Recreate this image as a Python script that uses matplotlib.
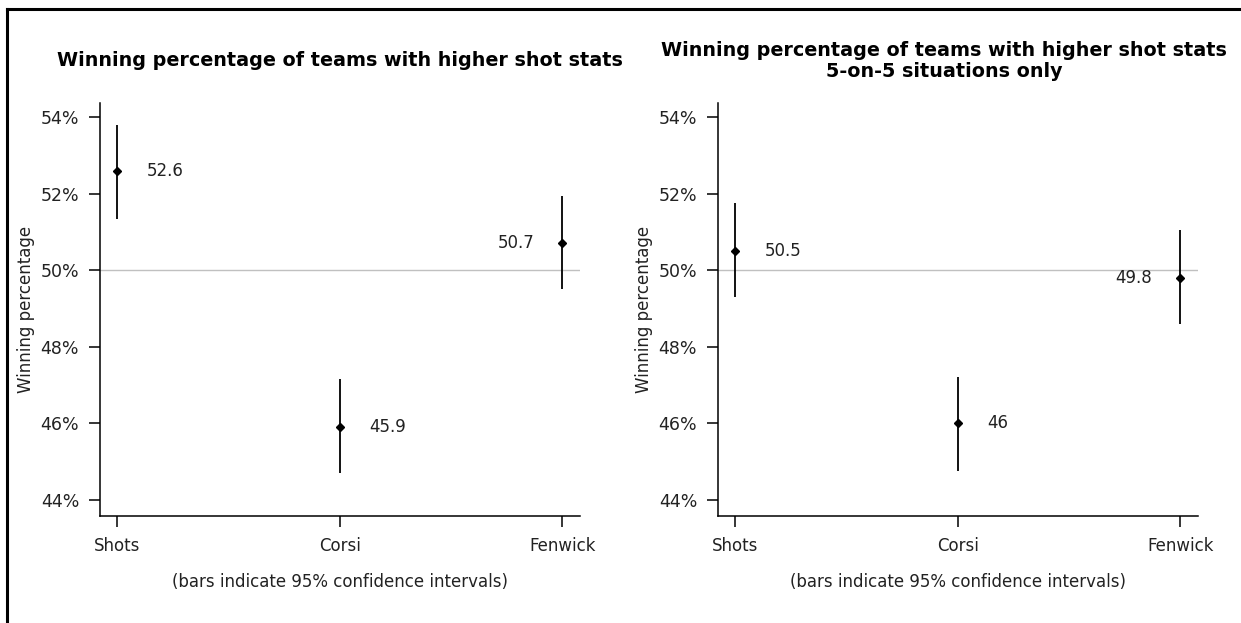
import numpy as np
import matplotlib
matplotlib.use("Agg")
import matplotlib.pyplot as plt
from matplotlib.lines import Line2D

# data
stats = ["Shots", "Corsi", "Fenwick"]
all_mean = [52.6, 45.9, 50.7]
all_lo = [51.35, 44.7, 49.5]
all_hi = [53.8, 47.15, 51.95]
ev_mean = [50.5, 46.0, 49.8]
ev_lo = [49.3, 44.75, 48.6]
ev_hi = [51.75, 47.2, 51.05]
yticks = [44, 46, 48, 50, 52, 54]
label_side = ["right", "right", "left"]

plt.rcParams['font.family'] = ['DejaVu Sans']
txt_col = '#222222'

fig = plt.figure(figsize=(12.41, 6.23), dpi=100)
W, H = 1241, 623

def draw_panel(left_px, mean, lo, hi, title, title_cx, title_y):
    ax = fig.add_axes([left_px / W, 1 - 516 / H, 480 / W, (516 - 103) / H])
    x = np.arange(1, len(stats) + 1)
    ax.axhline(50, color='#c0c0c0', lw=1.0, zorder=1)
    ax.vlines(x, lo, hi, color='black', lw=1.3, zorder=2)
    ax.plot(x, mean, linestyle='none', marker='D', ms=4, color='black', zorder=3)
    for xi, m, side in zip(x, mean, label_side):
        off = 30 if side == "right" else -28
        ha = 'left' if side == "right" else 'right'
        ax.annotate(f"{m:g}", (xi, m), xytext=(off * 0.72, 0), textcoords='offset points',
                    ha=ha, va='center', fontsize=12, color=txt_col)
    ax.set_xlim(0.923, 3.08)
    ax.set_ylim(43.58, 54.37)
    ax.set_xticks(x)
    ax.set_xticklabels(stats)
    ax.set_yticks(yticks)
    ax.set_yticklabels([f"{t}%" for t in yticks])
    ax.tick_params(axis='both', length=8, width=1.1, labelsize=12, labelcolor=txt_col, pad=7)
    ax.tick_params(axis='y', labelsize=12.5)
    ax.spines['top'].set_visible(False)
    ax.spines['right'].set_visible(False)
    for s in ['left', 'bottom']:
        ax.spines[s].set_linewidth(1.1)
    ax.set_ylabel("Winning percentage", fontsize=12, color=txt_col, labelpad=4)
    ax.set_xlabel("(bars indicate 95% confidence intervals)", fontsize=12, color=txt_col, labelpad=13)
    fig.text(title_cx / W, 1 - title_y / H, title, ha='center', va='center',
             fontsize=13.8, fontweight='bold', linespacing=1.1)
    return ax

draw_panel(100, all_mean, all_lo, all_hi,
           "Winning percentage of teams with higher shot stats", 340, 60)
draw_panel(718, ev_mean, ev_lo, ev_hi,
           "Winning percentage of teams with higher shot stats\n5-on-5 situations only", 944, 61)

# outer frame (left and top edges)
fig.add_artist(Line2D([7 / W, 7 / W], [0, 1 - 9 / H], color='black', lw=2.2, transform=fig.transFigure))
fig.add_artist(Line2D([7 / W, 1], [1 - 9 / H, 1 - 9 / H], color='black', lw=2.2, transform=fig.transFigure))

fig.savefig("out.png", dpi=100)
